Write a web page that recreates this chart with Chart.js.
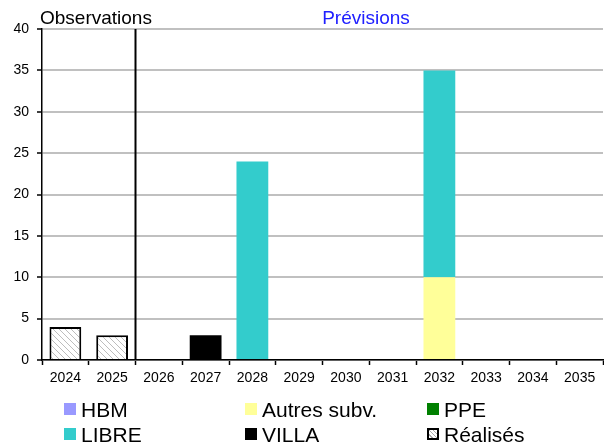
<!DOCTYPE html>
<html>
<head>
<meta charset="utf-8">
<script src="https://cdn.jsdelivr.net/npm/chart.js@4"></script>
<style>
  body { margin: 0; background: #fff; font-family: "Liberation Sans", Arial, sans-serif; }
  #wrap { position: relative; width: 604px; height: 445px; }
  #graphique { position: absolute; left: 0; top: 0; }
  #legende { position: absolute; left: 0; top: 0; width: 604px; height: 445px; pointer-events: none; }
  .item { position: absolute; font-size: 21px; color: #000; line-height: 24px; white-space: nowrap; }
  .item i { position: absolute; left: -17px; top: 5px; width: 12px; height: 12px; box-sizing: border-box; }
</style>
</head>
<body>
<div id="wrap">
  <canvas id="graphique" width="604" height="395"></canvas>
  <div id="legende"></div>
</div>
<script>
//Données du graphique
const annees = ['2024', '2025', '2026', '2027', '2028', '2029', '2030', '2031', '2032', '2033', '2034', '2035'];
const hbm = [0, 0, 0, 0, 0, 0, 0, 0, 0, 0, 0, 0];
const autresSubv = [0, 0, 0, 0, 0, 0, 0, 0, 10, 0, 0, 0];
const ppe = [0, 0, 0, 0, 0, 0, 0, 0, 0, 0, 0, 0];
const libre = [0, 0, 0, 0, 24, 0, 0, 0, 25, 0, 0, 0];
const villa = [0, 0, 0, 3, 0, 0, 0, 0, 0, 0, 0, 0];
const realises = [4, 3, 0, 0, 0, 0, 0, 0, 0, 0, 0, 0];
const ticksY = [0, 5, 10, 15, 20, 25, 30, 35, 40];

//Motif hachuré pour les logements réalisés
function creerHachures() {
    let c = document.createElement('canvas');
    c.width = 6; c.height = 6;
    let ctx = c.getContext('2d');
    ctx.fillStyle = '#ffffff';
    ctx.fillRect(0, 0, 6, 6);
    ctx.strokeStyle = '#bdbdbd';
    ctx.lineWidth = 1;
    ctx.beginPath();
    ctx.moveTo(0, 0); ctx.lineTo(6, 6);
    ctx.moveTo(-3, 3); ctx.lineTo(3, 9);
    ctx.moveTo(3, -3); ctx.lineTo(9, 3);
    ctx.stroke();
    return c;
}
const hachures = document.createElement('canvas').getContext('2d').createPattern(creerHachures(), 'repeat');

const series = [
    { label: 'HBM', data: hbm, color: '#9999ff' },
    { label: 'Autres subv.', data: autresSubv, color: '#ffff99' },
    { label: 'PPE', data: ppe, color: '#008000' },
    { label: 'LIBRE', data: libre, color: '#33cccc' },
    { label: 'VILLA', data: villa, color: '#000000' }
];

const datasets = series.map(s => ({
    label: s.label,
    data: s.data,
    backgroundColor: s.color,
    borderWidth: 0,
    barPercentage: 0.68,
    categoryPercentage: 1
}));
datasets.push({
    label: 'Réalisés',
    data: realises,
    backgroundColor: hachures,
    borderColor: '#000000',
    borderWidth: 2,
    barPercentage: 0.68,
    categoryPercentage: 1
});

//Ligne verticale et titres Observations / Prévisions
const separateur = {
    id: 'separateur',
    afterDatasetsDraw(chart) {
        const ctx = chart.ctx;
        const x = chart.scales.x;
        const y = chart.scales.y;
        const px = (x.getPixelForValue(1) + x.getPixelForValue(2)) / 2;
        ctx.save();
        ctx.strokeStyle = '#000';
        ctx.lineWidth = 2;
        ctx.beginPath();
        ctx.moveTo(px, y.top);
        ctx.lineTo(px, y.bottom);
        ctx.stroke();
        ctx.font = '19px "Liberation Sans", Arial, sans-serif';
        ctx.textBaseline = 'alphabetic';
        ctx.fillStyle = '#000';
        ctx.textAlign = 'left';
        ctx.fillText('Observations', 40, 24);
        ctx.fillStyle = '#2020ff';
        ctx.textAlign = 'center';
        ctx.fillText('Prévisions', 366, 24);
        ctx.restore();
    }
};

new Chart(document.getElementById('graphique'), {
    type: 'bar',
    data: { labels: annees, datasets: datasets },
    plugins: [separateur],
    options: {
        responsive: false,
        animation: false,
        layout: { padding: { top: 29, right: 1, left: 0, bottom: 0 } },
        plugins: { legend: { display: false }, tooltip: { enabled: false } },
        scales: {
            x: {
                stacked: true,
                afterFit: s => { s.height = 35; },
                grid: { offset: true, drawOnChartArea: false, tickLength: 5, tickColor: '#000', tickWidth: 1.5 },
                border: { color: '#000', width: 1.5 },
                ticks: { color: '#000', font: { size: 14, family: '"Liberation Sans", Arial' }, padding: 5, maxRotation: 0 }
            },
            y: {
                stacked: true,
                min: 0,
                max: 40,
                afterFit: s => { s.width = 42; },
                afterBuildTicks: s => { s.ticks = ticksY.map(v => ({ value: v })); },
                grid: { color: '#c0c0c0', lineWidth: 2, tickLength: 5, tickColor: '#000', tickWidth: 1.5 },
                border: { color: '#000', width: 1.5 },
                ticks: { color: '#000', font: { size: 14, family: '"Liberation Sans", Arial' }, padding: 8 }
            }
        }
    }
});

//Légende en deux lignes et trois colonnes
const legende = document.getElementById('legende');
const positions = [[81, 398], [262, 398], [444, 398], [81, 423], [262, 423], [444, 423]];
const itemsLegende = series.map(s => ({ label: s.label, color: s.color }));
itemsLegende.push({ label: 'Réalisés', color: null });
const ordre = ['HBM', 'Autres subv.', 'PPE', 'LIBRE', 'VILLA', 'Réalisés'];
ordre.forEach((nom, i) => {
    let it = itemsLegende.find(e => e.label == nom);
    let div = document.createElement('div');
    div.className = 'item';
    div.style.left = positions[i][0] + 'px';
    div.style.top = positions[i][1] + 'px';
    let carre = document.createElement('i');
    if (it.color) {
        carre.style.background = it.color;
    } else {
        carre.style.border = '2px solid #000';
        carre.style.background = 'repeating-linear-gradient(45deg, #fff 0 2px, #aaa 2px 3px)';
    }
    div.appendChild(carre);
    div.appendChild(document.createTextNode(nom));
    legende.appendChild(div);
});
</script>
</body>
</html>
